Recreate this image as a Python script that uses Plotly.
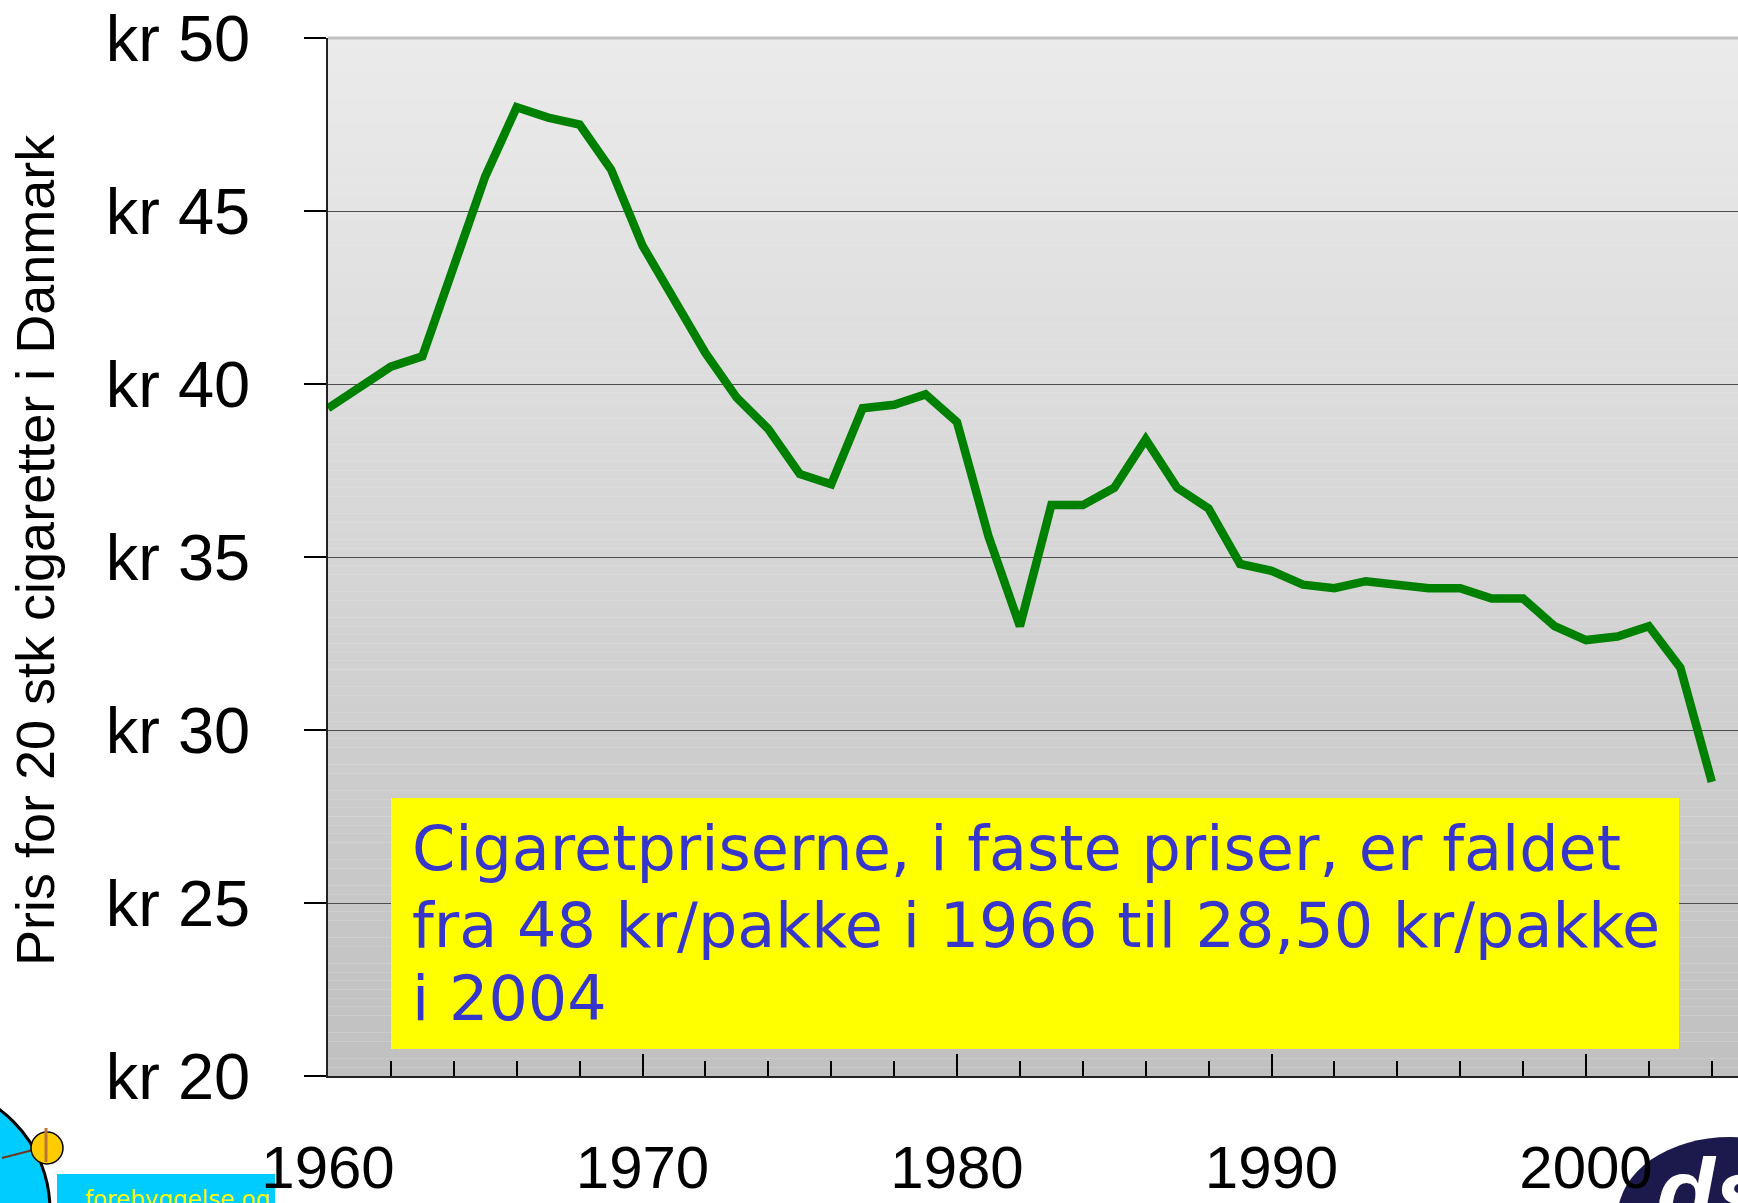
import numpy as np
import plotly.graph_objects as go

# Cigarette price per pack of 20 in Denmark, fixed prices (kr)
years = list(range(1960, 2005))
prices = [
    39.3, 39.9, 40.5, 40.8, 43.4, 46.0, 48.0, 47.7, 47.5, 46.2,
    44.0, 42.5, 40.9, 39.6, 38.7, 37.4, 37.1, 39.3, 39.4, 39.7,
    38.9, 35.6, 33.0, 36.5, 36.5, 37.0, 38.4, 37.0, 36.4, 34.8,
    34.6, 34.2, 34.1, 34.3, 34.2, 34.1, 34.1, 33.8, 33.8, 33.0,
    32.6, 32.7, 33.0, 31.8, 28.5,
]

y_tick_vals = [20, 25, 30, 35, 40, 45, 50]
y_tick_text = ["kr 20", "kr 25", "kr 30", "kr 35", "kr 40", "kr 45", "kr 50"]
x_tick_vals = [1960, 1970, 1980, 1990, 2000]
x_tick_text = ["1960", "1970", "1980", "1990", "2000"]

y_title = "Pris for 20 stk cigaretter i Danmark"
note_lines = [
    "Cigaretpriserne, i faste priser, er faldet",
    "fra 48 kr/pakke i 1966 til 28,50 kr/pakke",
    "i 2004",
]
logo_caption = "...forebyggelse og"
logo_mark = "ds"

# Page geometry (pixels)
W, H = 1738, 1203
L, R, T, B = 328, 0, 38, 127
PX_PER_YEAR = 31.45
x_max = 1960 + (W - L - R) / PX_PER_YEAR


def px_x(px):
    return (px - L) / (W - L - R)


def px_y(py):
    return (H - B - py) / (H - T - B)


SANS = "Liberation Sans, Arial, sans-serif"
HAND = "DejaVu Sans, Noto Sans, sans-serif"

fig = go.Figure()
fig.add_trace(go.Scatter(
    x=years, y=prices, mode="lines",
    line=dict(color="#008000", width=8.5),
    hoverinfo="skip", showlegend=False,
))

shapes = []

# Vertical grey gradient behind the grid
n_bands = 120
lo, hi = np.array([192, 192, 192]), np.array([235, 235, 235])
edges = np.linspace(20, 50, n_bands + 1)
for i in range(n_bands):
    t = (i + 0.5) / n_bands
    c = (lo + (hi - lo) * t).round().astype(int)
    shapes.append(dict(
        type="rect", xref="paper", yref="y", x0=0, x1=1,
        y0=edges[i], y1=edges[i + 1], layer="below",
        fillcolor=f"rgb({c[0]},{c[1]},{c[2]})", line=dict(width=0),
    ))

# Light frame along the top of the plot area
shapes.append(dict(type="line", xref="paper", yref="paper", x0=0, x1=1,
                   y0=1, y1=1, line=dict(color="#c0c0c0", width=3), layer="above"))

# Yellow note box
shapes.append(dict(type="rect", xref="paper", yref="paper",
                   x0=px_x(391), x1=px_x(1679), y0=px_y(1049), y1=px_y(798),
                   fillcolor="#ffff00", line=dict(width=0), layer="above"))

# Bottom-left emblem
shapes.append(dict(type="circle", xref="paper", yref="paper",
                   x0=px_x(-200), x1=px_x(50), y0=px_y(1335), y1=px_y(1085),
                   fillcolor="#00ccff", line=dict(color="#000000", width=3), layer="below"))
shapes.append(dict(type="line", xref="paper", yref="paper",
                   x0=px_x(2), x1=px_x(33), y0=px_y(1158), y1=px_y(1150),
                   line=dict(color="#6b3a1e", width=2), layer="below"))
shapes.append(dict(type="circle", xref="paper", yref="paper",
                   x0=px_x(31), x1=px_x(63), y0=px_y(1164), y1=px_y(1132),
                   fillcolor="#ffcc00", line=dict(color="#000000", width=1.5), layer="below"))
shapes.append(dict(type="line", xref="paper", yref="paper",
                   x0=px_x(46), x1=px_x(46), y0=px_y(1162), y1=px_y(1128),
                   line=dict(color="#b8763a", width=3), layer="below"))
shapes.append(dict(type="rect", xref="paper", yref="paper",
                   x0=px_x(57), x1=px_x(275), y0=px_y(1220), y1=px_y(1174),
                   fillcolor="#00ccff", line=dict(width=0), layer="below"))

# Bottom-right emblem
shapes.append(dict(type="circle", xref="paper", yref="paper",
                   x0=px_x(1618), x1=px_x(1842), y0=px_y(1293), y1=px_y(1137),
                   fillcolor="#1c1a4c", line=dict(width=0), layer="below"))

annotations = []
for text, yc in zip(note_lines, [848, 925, 998]):
    annotations.append(dict(
        text=text, xref="paper", yref="paper", x=px_x(410), y=px_y(yc),
        xanchor="left", yanchor="middle", showarrow=False,
        font=dict(family=HAND, size=62, color="#3636cc"),
    ))

annotations.append(dict(
    text=y_title, xref="paper", yref="paper", x=px_x(35), y=px_y(550),
    xanchor="center", yanchor="middle", textangle=-90, showarrow=False,
    font=dict(family=SANS, size=54, color="#000000"),
))
annotations.append(dict(
    text=logo_caption, xref="paper", yref="paper", x=px_x(166), y=px_y(1199),
    xanchor="center", yanchor="middle", showarrow=False,
    font=dict(family=HAND, size=23, color="#ffff00"),
))
annotations.append(dict(
    text=f"<b><i>{logo_mark}</i></b>", xref="paper", yref="paper",
    x=px_x(1712), y=px_y(1192), xanchor="center", yanchor="middle",
    showarrow=False, font=dict(family=SANS, size=96, color="#ffffff"),
))

fig.update_layout(
    width=W, height=H,
    margin=dict(l=L, r=R, t=T, b=B, autoexpand=False),
    paper_bgcolor="#ffffff", plot_bgcolor="#ebebeb",
    shapes=shapes, annotations=annotations, showlegend=False,
)

fig.update_xaxes(
    range=[1960, x_max], tickmode="array",
    tickvals=x_tick_vals, ticktext=x_tick_text,
    ticks="inside", ticklen=22, tickwidth=1.5, tickcolor="#000000",
    minor=dict(dtick=2, tick0=1960, ticks="inside", ticklen=15,
               tickwidth=1.5, tickcolor="#000000"),
    showgrid=False, zeroline=False,
    showline=True, linecolor="#222222", linewidth=2,
    ticklabelstandoff=38,
    tickfont=dict(family=SANS, size=60, color="#000000"),
)

fig.update_yaxes(
    range=[20, 50], tickmode="array",
    tickvals=y_tick_vals, ticktext=y_tick_text,
    ticks="outside", ticklen=22, tickwidth=1.5, tickcolor="#000000",
    showgrid=True, gridcolor="#4d4d4d", gridwidth=1.2, zeroline=False,
    showline=True, linecolor="#222222", linewidth=1.5,
    ticklabelstandoff=41,
    tickfont=dict(family=SANS, size=65, color="#000000"),
)

fig.write_html("out.html")
